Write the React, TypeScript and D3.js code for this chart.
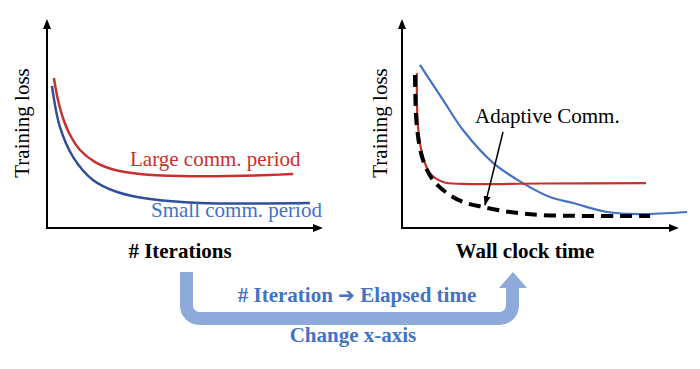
import * as d3 from "d3";

// Left panel: loss vs. iterations (x, loss in 0..100 units)
const iterLargeX = [2.5, 4, 5.8, 8.4, 12, 17.5, 24.7, 33.8, 48.4, 66.5, 81, 89.5];
const iterLargeLoss = [72.1, 61.5, 52.9, 44.7, 37.5, 31.7, 27.9, 26, 25, 25, 25.5, 26];
const iterSmallX = [1.8, 4.7, 9.5, 16.7, 25.5, 37.5, 55.6, 95.6];
const iterSmallLoss = [68.3, 48.6, 34.1, 23.1, 17.3, 13.9, 12, 12];

// Right panel: loss vs. wall clock time
const timeLargeX = [5.4, 5.8, 7.6, 10.1, 14.9, 22.1, 50, 88.4];
const timeLargeLoss = [74.5, 48.6, 34.1, 26.4, 22.1, 21.2, 21.4, 21.6];
const timeSmallX = [6.5, 14.9, 22.1, 33, 43.8, 53.6, 62, 74.3, 86.2, 103.3];
const timeSmallLoss = [78.4, 61.5, 47.1, 31.3, 21.6, 14.9, 12, 7.7, 6.7, 7.7];
const timeAdaptX = [4.7, 5.4, 7.6, 11.2, 16.3, 22.1, 29.3, 39.1, 51.1, 89.9];
const timeAdaptLoss = [73.6, 48.6, 32.7, 23.1, 16.8, 12.5, 10.1, 7.7, 6.2, 5.8];

const RED = "#c8302e";
const NAVY = "#2f4f9a";
const BLUE = "#4472c4";
const ARROW_BLUE = "#8eaadb";
const SERIF = "Liberation Serif";

const zip = (xs: number[], ys: number[]) => xs.map((x, i) => [x, ys[i]] as [number, number]);

const serif = (size: number, bold = false) => ({
  fontFamily: SERIF,
  fontSize: size,
  fontWeight: bold ? "bold" : "normal",
});

export default function App() {
  const y = d3.scaleLinear().domain([0, 100]).range([228, 20]);
  const xLeft = d3.scaleLinear().domain([0, 100]).range([47, 322]);
  const xRight = d3.scaleLinear().domain([0, 100]).range([402, 678]);

  const lineFor = (x: d3.ScaleLinear<number, number>) =>
    d3
      .line<[number, number]>()
      .x((d) => x(d[0]))
      .y((d) => y(d[1]))
      .curve(d3.curveCatmullRom.alpha(0.5));

  const lineL = lineFor(xLeft);
  const lineR = lineFor(xRight);

  const axes = (x: d3.ScaleLinear<number, number>) => {
    const [x0, x1] = x.range();
    const [yb, yt] = y.range();
    return (
      <g stroke="#000" strokeWidth={2}>
        <line x1={x0} y1={yb + 1} x2={x0} y2={yt + 8} markerEnd="url(#axArrow)" />
        <line x1={x0 - 1} y1={yb} x2={x1 - 8} y2={yb} markerEnd="url(#axArrow)" />
      </g>
    );
  };

  const labelLoss = (cx: number) => (
    <text transform={`translate(${cx},123) rotate(-90)`} textAnchor="middle" fill="#000" style={serif(21)}>
      Training loss
    </text>
  );

  return (
    <div style={{ position: "absolute", left: 0, top: 0 }}>
      <svg width={700} height={369} viewBox="0 0 700 369" style={{ display: "block", background: "#fff" }}>
        <defs>
          <marker
            id="axArrow"
            markerUnits="userSpaceOnUse"
            markerWidth={10}
            markerHeight={10}
            refX={1}
            refY={5}
            orient="auto"
          >
            <path d="M0,1 L10,5 L0,9 Z" fill="#000" stroke="none" />
          </marker>
          <marker
            id="thinArrow"
            markerUnits="userSpaceOnUse"
            markerWidth={10}
            markerHeight={8}
            refX={9}
            refY={4}
            orient="auto"
          >
            <path d="M0,0.5 L10,4 L0,7.5 Z" fill="#000" />
          </marker>
        </defs>

        {/* Left panel */}
        {axes(xLeft)}
        {labelLoss(29)}
        <path d={lineL(zip(iterSmallX, iterSmallLoss)) ?? ""} fill="none" stroke={NAVY} strokeWidth={2.5} />
        <path d={lineL(zip(iterLargeX, iterLargeLoss)) ?? ""} fill="none" stroke={RED} strokeWidth={2.5} />
        <text x={130} y={166} fill={RED} style={serif(21)}>
          Large comm. period
        </text>
        <text x={151} y={217} fill={BLUE} style={serif(21)}>
          Small comm. period
        </text>
        <text x={180} y={258} textAnchor="middle" style={serif(21, true)}>
          # Iterations
        </text>

        {/* Right panel */}
        {axes(xRight)}
        {labelLoss(387)}
        <path d={lineR(zip(timeSmallX, timeSmallLoss)) ?? ""} fill="none" stroke={BLUE} strokeWidth={2.2} />
        <path d={lineR(zip(timeLargeX, timeLargeLoss)) ?? ""} fill="none" stroke={RED} strokeWidth={2.2} />
        <path
          d={lineR(zip(timeAdaptX, timeAdaptLoss)) ?? ""}
          fill="none"
          stroke="#000"
          strokeWidth={4}
          strokeDasharray="12 7"
        />
        <text x={475} y={123} style={serif(21)}>
          Adaptive Comm.
        </text>
        <line x1={503} y1={132} x2={485} y2={205} stroke="#000" strokeWidth={1.5} markerEnd="url(#thinArrow)" />
        <text x={525} y={258} textAnchor="middle" style={serif(21, true)}>
          Wall clock time
        </text>

        {/* U-turn arrow */}
        <path
          d="M186.5,272 V305.5 A13,13 0 0 0 199.5,318.5 H499.5 A13,13 0 0 0 512.5,305.5 V287"
          fill="none"
          stroke={ARROW_BLUE}
          strokeWidth={13}
        />
        <path d="M499,288 L513,272 L527,288 Z" fill={ARROW_BLUE} />
        <text x={357} y={302} textAnchor="middle" fill={BLUE} style={serif(21, true)}>
          # Iteration{" "}
          <tspan style={{ fontFamily: "DejaVu Sans", fontSize: 20 }}>➔</tspan> Elapsed time
        </text>
        <text x={353} y={342} textAnchor="middle" fill={BLUE} style={serif(21, true)}>
          Change x-axis
        </text>
      </svg>
    </div>
  );
}
